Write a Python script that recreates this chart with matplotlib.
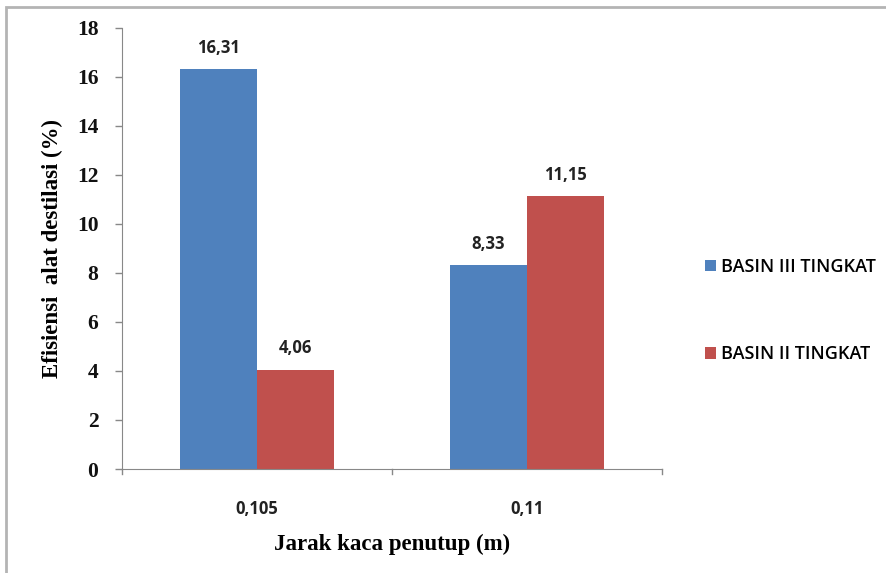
import matplotlib.pyplot as plt
import numpy as np
from matplotlib.patches import Rectangle

# data efisiensi alat destilasi
kategori = ['0,105', '0,11']
basin_3 = [16.31, 8.33]
basin_2 = [4.06, 11.15]
seri = ['BASIN III TINGKAT', 'BASIN II TINGKAT']
warna = ['#4F81BD', '#C0504D']
y_ticks = [0, 2, 4, 6, 8, 10, 12, 14, 16, 18]

fig = plt.figure(figsize=(8.86, 5.73), dpi=100)
ax = fig.add_axes([0.1377, 0.1815, 0.6095, 0.7697])

x = np.arange(len(kategori))
lebar = 0.285
b1 = ax.bar(x - lebar / 2, basin_3, lebar, color=warna[0], label=seri[0])
b2 = ax.bar(x + lebar / 2, basin_2, lebar, color=warna[1], label=seri[1])

for bars, vals in [(b1, basin_3), (b2, basin_2)]:
    for b, v in zip(bars, vals):
        ax.text(b.get_x() + b.get_width() / 2, v + 0.5, f'{v:.2f}'.replace('.', ','),
                ha='center', va='bottom', fontsize=12, fontweight='bold',
                family='Open Sans', color='#222222')

ax.set_xlim(-0.5, 1.5)
ax.set_ylim(0, 18)
ax.set_yticks(y_ticks)
ax.set_yticklabels([str(t) for t in y_ticks], family='Liberation Serif',
                   fontsize=15.5, fontweight='semibold', color='#111111')
ax.set_xticks(x)
ax.set_xticklabels(kategori, family='Open Sans', fontsize=12,
                   fontweight='bold', color='#222222')
ax.tick_params(axis='x', length=0, pad=22)
ax.tick_params(axis='y', length=5, color='#888888', width=1, pad=12)
# tick pemisah kategori
for xb in [-0.5, 0.5, 1.5]:
    ax.plot([xb, xb], [0, -0.2], color='#888888', lw=1, clip_on=False)

for s in ['top', 'right']:
    ax.spines[s].set_visible(False)
for s in ['left', 'bottom']:
    ax.spines[s].set_color('#888888')

ax.set_ylabel('Efisiensi  alat destilasi (%)', family='Liberation Serif',
              fontsize=16.5, fontweight='bold', labelpad=10)
ax.set_xlabel('Jarak kaca penutup (m)', family='Liberation Serif',
              fontsize=16.5, fontweight='bold', labelpad=12)

leg = fig.legend(handles=[b1, b2], labels=seri, loc='upper left',
                 bbox_to_anchor=(0.786, 0.566), frameon=False,
                 prop={'family': 'Open Sans', 'size': 13, 'weight': 'semibold'},
                 labelspacing=3.85, handlelength=0.6, handleheight=0.6,
                 handletextpad=0.25, borderpad=0)

# bingkai grafik
fig.patches.append(Rectangle((6 / 886, -0.05), 1.0, 1 - 7 / 573 + 0.05,
                             transform=fig.transFigure, fill=False,
                             edgecolor='#b4b4b4', lw=2))

fig.savefig('out.png', dpi=100)
